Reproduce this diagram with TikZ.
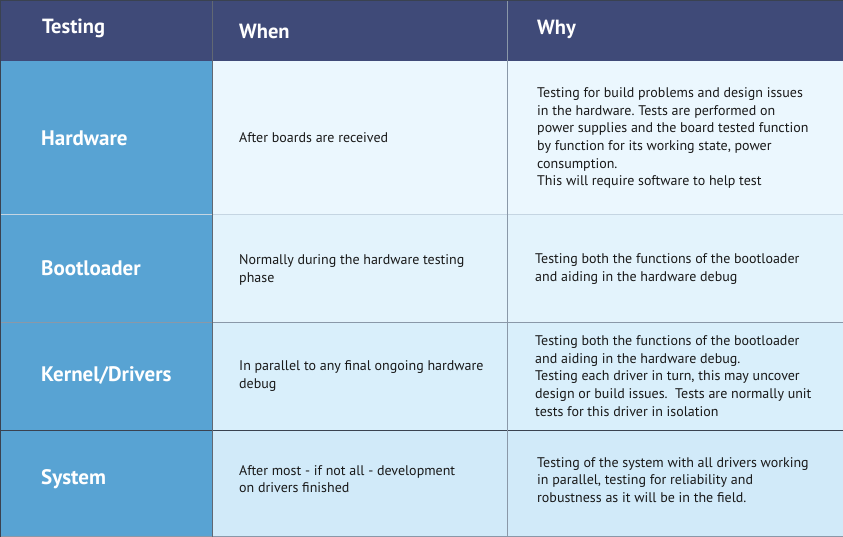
\documentclass[tikz,border=0pt]{standalone}
\usepackage{fontspec}
\setmainfont{PT Sans}
\definecolor{hdr}{HTML}{3F4A78}
\definecolor{side}{HTML}{58A3D3}
\definecolor{rowa}{HTML}{EBF7FE}
\definecolor{rowb}{HTML}{E3F3FC}
\definecolor{rowc}{HTML}{D9EFFB}
\definecolor{rowd}{HTML}{D1EAF9}
\definecolor{sepa}{HTML}{C5D5E2}
\definecolor{sepb}{HTML}{8A98A8}
\definecolor{sepc}{HTML}{3A4250}
\frenchspacing
\begin{document}
\begin{tikzpicture}[x=1pt,y=-1pt,
  hdrtext/.style={anchor=west,text=white,font=\bfseries\fontsize{20.5}{24}\selectfont,inner sep=0pt},
  sidetext/.style={anchor=west,text=white,font=\bfseries\fontsize{21}{24}\selectfont,inner sep=0pt},
  celltext/.style={anchor=west,text=black!90,align=left,font=\fontsize{14}{17.7}\selectfont,inner sep=0pt}]
\useasboundingbox (0,0) rectangle (843,537);
% backgrounds
\fill[hdr] (0,0) rectangle (843,61);
\fill[rowa] (212,61) rectangle (843,214);
\fill[rowb] (212,214) rectangle (843,322);
\fill[rowc] (212,322) rectangle (843,430);
\fill[rowd] (212,430) rectangle (843,537);
\fill[side] (0,61) rectangle (212,537);
% grid lines
\draw[sepa,line width=1pt] (0,214.5) -- (843,214.5);
\draw[sepb,line width=1pt] (0,322.5) -- (843,322.5);
\draw[sepc,line width=1pt] (0,430.5) -- (843,430.5);
\draw[sepb,line width=1pt] (0,536.5) -- (843,536.5);
\draw[sepc!80,line width=1pt] (212.5,0) -- (212.5,537);
\draw[sepb,line width=1pt] (507.5,0) -- (507.5,537);
\draw[sepc,line width=1pt] (0.5,0) -- (0.5,537);
\draw[sepc,line width=1pt] (0,0.5) -- (843,0.5);
% header
\node[hdrtext] (h1) at (42,28) {Testing};
\node[hdrtext] (h2) at (239,31) {When};
\node[hdrtext] (h3) at (537,29) {Why};
% side labels
\node[sidetext] (s1) at (41,138) {Hardware};
\node[sidetext] (s2) at (41,268) {Bootloader};
\node[sidetext] (s3) at (41,375) {Kernel/Drivers};
\node[sidetext] (s4) at (41,479) {System};
% when column
\node[celltext] (w1) at (239,138) {After boards are received};
\node[celltext] (w2) at (239,270) {Normally during the hardware testing\\phase};
\node[celltext] (w3) at (239,376) {In parallel to any final ongoing hardware\\debug};
\node[celltext] (w4) at (239,479) {After most - if not all - development\\on drivers finished};
% why column
\node[celltext] (y1) at (537,138) {Testing for build problems and design issues\\in the hardware. Tests are performed on\\power supplies and the board tested function\\by function for its working state, power\\consumption.\\This will require software to help test};
\node[celltext] (y2) at (535,269) {Testing both the functions of the bootloader\\and aiding in the hardware debug};
\node[celltext] (y3) at (535,376) {Testing both the functions of the bootloader\\and aiding in the hardware debug.\\Testing each driver in turn, this may uncover\\design or build issues.\ \ Tests are normally unit\\tests for this driver in isolation};
\node[celltext] (y4) at (537,480) {Testing of the system with all drivers working\\in parallel, testing for reliability and\\robustness as it will be in the field.};
\end{tikzpicture}
\end{document}
